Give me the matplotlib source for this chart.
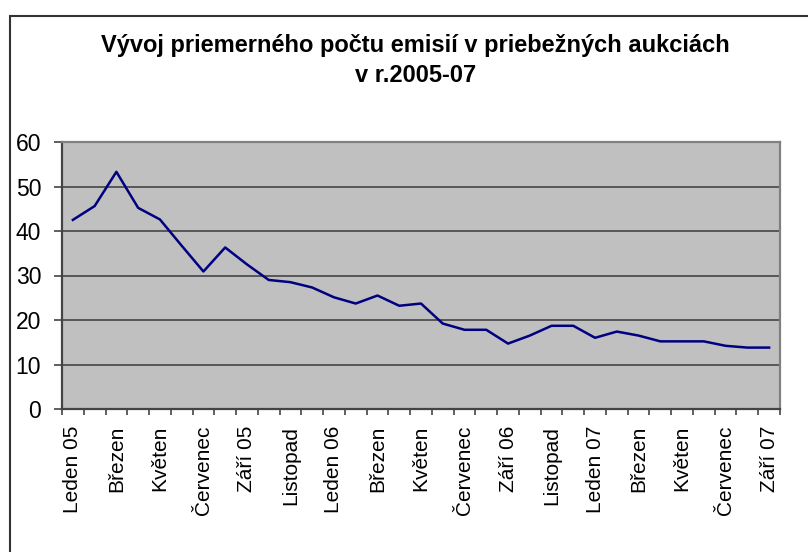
import matplotlib.pyplot as plt
from matplotlib.patches import Rectangle
from matplotlib.ticker import FixedLocator

plt.rcParams['font.family'] = ['Liberation Sans', 'DejaVu Sans']

# average number of issues per month, Jan 2005 - Sep 2007
values = [42.5, 45.6, 53.3, 45.2, 42.6, 36.7, 30.9, 36.3, 32.5, 29.0,
          28.5, 27.3, 25.1, 23.7, 25.5, 23.2, 23.7, 19.2, 17.8, 17.8,
          14.7, 16.5, 18.7, 18.7, 16.0, 17.4, 16.5, 15.2, 15.2, 15.2,
          14.2, 13.8, 13.8]
tick_labels = ["Leden 05", "Březen", "Květen", "Červenec", "Září 05",
               "Listopad", "Leden 06", "Březen", "Květen", "Červenec",
               "Září 06", "Listopad", "Leden 07", "Březen", "Květen",
               "Červenec", "Září 07"]
yticks = [0, 10, 20, 30, 40, 50, 60]

fig = plt.figure(figsize=(8.08, 5.52), dpi=100)
ax = fig.add_axes([62 / 808, 1 - 409 / 552, 718 / 808, 267 / 552])

x = list(range(len(values)))
ax.plot(x, values, color='#000080', lw=1.8, zorder=3)

ax.set_facecolor('#c0c0c0')
ax.set_xlim(-0.5, len(values) - 0.5)
ax.set_ylim(0, 60)
ax.set_yticks(yticks)
ax.yaxis.grid(True, color='#3a3a3a', lw=1.1)
ax.set_axisbelow(True)

ax.set_xticks(x[::2])
ax.set_xticklabels(tick_labels, rotation=90, fontsize=15)
ax.tick_params(axis='x', length=0, pad=12)
ax.xaxis.set_minor_locator(FixedLocator([i - 0.5 for i in range(len(values) + 1)]))
ax.tick_params(axis='x', which='minor', length=4, width=1.2, color='#444444', direction='out')
ax.tick_params(axis='y', length=6, width=1.2, color='#444444', labelsize=16.5, pad=9)

for side in ['left', 'bottom']:
    ax.spines[side].set_color('#444444')
    ax.spines[side].set_linewidth(1.6)
for side in ['top', 'right']:
    ax.spines[side].set_color('#808080')
    ax.spines[side].set_linewidth(1.6)

fig.text(415.5 / 808, 1 - 45.5 / 552, "Vývoj priemerného počtu emisií v priebežných aukciách",
         ha='center', va='center', fontsize=17, fontweight='bold')
fig.text(415.5 / 808, 1 - 76 / 552, "v r.2005-07",
         ha='center', va='center', fontsize=17, fontweight='bold')

# chart area border
fig.patches.append(Rectangle((9.5 / 808, -0.1), 1.1, 1.1 - 15.5 / 552,
                             transform=fig.transFigure, fill=False,
                             edgecolor='#333333', lw=1.5))

fig.savefig('out.png', dpi=100)
